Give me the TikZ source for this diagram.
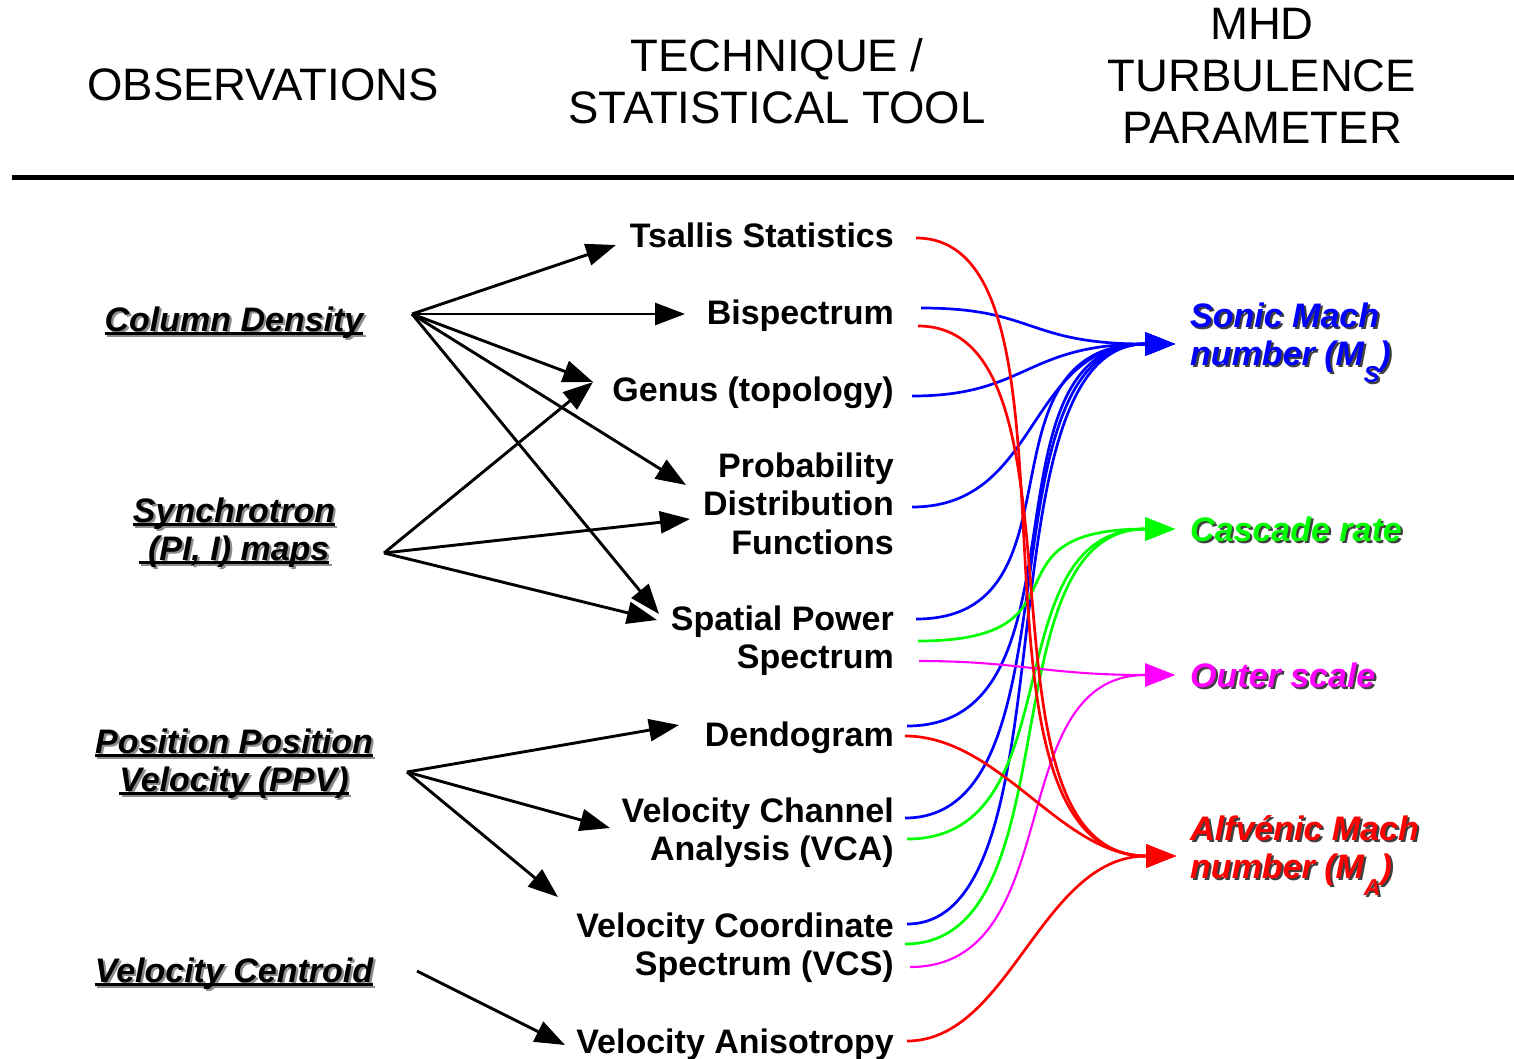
\documentclass[tikz,border=0pt]{standalone}
\usepackage{fontspec}
\setmainfont{Liberation Sans}
\usetikzlibrary{arrows.meta}

\definecolor{mhdblue}{RGB}{0,0,255}
\definecolor{mhdgreen}{RGB}{0,255,0}
\definecolor{mhdmagenta}{RGB}{255,0,255}
\definecolor{mhdred}{RGB}{255,0,0}

% underlined text (rule just below the baseline)
\newsavebox\ulinebox
\newcommand\ulbox[1]{\sbox\ulinebox{#1}\rlap{\rule[-3.6pt]{\wd\ulinebox}{2.2pt}}\usebox\ulinebox}
% text with a soft drop shadow offset down and to the right
\newcommand\shadowed[2]{\makebox[0pt][l]{\kern2.2pt\raisebox{-2.2pt}{\color{#1}#2}}#2}
\newcommand\obsline[1]{\shadowed{black!45}{\ulbox{#1}}}
\newcommand\parline[1]{\shadowed{black!75}{#1}}
\newcommand\lowidx[1]{\raisebox{-17pt}{\fontsize{23}{23}\selectfont #1}}

\tikzset{
  head/.style={inner sep=0pt, anchor=base, font=\fontsize{45.5}{52}\selectfont},
  obs/.style={inner sep=0pt, anchor=base, font=\fontsize{34}{38}\selectfont\bfseries\itshape},
  tool/.style={inner sep=0pt, anchor=base east, font=\fontsize{34}{38.5}\selectfont\bfseries},
  param/.style={inner sep=0pt, anchor=base west, font=\fontsize{34}{38}\selectfont\bfseries\itshape},
  feed/.style={line width=2.9pt, -{Triangle[length=30pt,width=22pt]}},
  link/.style={line width=2.7pt, -{Triangle[length=30pt,width=23pt]}},
  thinlink/.style={line width=2.1pt, -{Triangle[length=30pt,width=23pt]}},
}

\begin{document}
\begin{tikzpicture}[x=1pt,y=-1pt]
\useasboundingbox (0,0) rectangle (1514,1058);

% ---------- column headings ----------
\node[head] (hObs) at (263,100) {OBSERVATIONS};
\node[head] (hTool) at (777,71) {\begin{tabular}[t]{@{}c@{}}TECHNIQUE /\\STATISTICAL TOOL\end{tabular}};
\node[head] (hPar) at (1262,39) {\begin{tabular}[t]{@{}c@{}}MHD\\TURBULENCE\\PARAMETER\end{tabular}};
\coordinate (ruleL) at (12,177);
\coordinate (ruleR) at (1514,177);
\draw[line width=5pt] (ruleL) -- (ruleR);

% ---------- observations ----------
\node[obs] (colden) at (234,331) {\obsline{Column Density}};
\node[obs] (synch) at (234,522) {\begin{tabular}[t]{@{}c@{}}\obsline{Synchrotron}\\\obsline{\ (PI, I) maps}\end{tabular}};
\node[obs] (ppv) at (234,753) {\begin{tabular}[t]{@{}c@{}}\obsline{Position Position}\\\obsline{Velocity (PPV)}\end{tabular}};
\node[obs] (vcen) at (234,982) {\obsline{Velocity Centroid}};

% ---------- techniques ----------
\node[tool] (tsallis) at (894,247) {Tsallis Statistics};
\node[tool] (bispec) at (894,324) {Bispectrum};
\node[tool] (genus) at (894,401) {Genus (topology)};
\node[tool] (pdf) at (894,477) {\begin{tabular}[t]{@{}r@{}}Probability\\Distribution\\Functions\end{tabular}};
\node[tool] (sps) at (894,630) {\begin{tabular}[t]{@{}r@{}}Spatial Power\\Spectrum\end{tabular}};
\node[tool] (dendo) at (894,746) {Dendogram};
\node[tool] (vca) at (894,822) {\begin{tabular}[t]{@{}r@{}}Velocity Channel\\Analysis (VCA)\end{tabular}};
\node[tool] (vcs) at (894,937) {\begin{tabular}[t]{@{}r@{}}Velocity Coordinate\\Spectrum (VCS)\end{tabular}};
\node[tool] (vani) at (894,1053) {Velocity Anisotropy};

% ---------- MHD parameters ----------
\node[param, text=mhdblue] (sonic) at (1190,327) {\begin{tabular}[t]{@{}l@{}}\parline{Sonic Mach}\\\parline{number (M\lowidx{S})}\end{tabular}};
\node[param, text=mhdgreen] (cascade) at (1190,541) {\parline{Cascade rate}};
\node[param, text=mhdmagenta] (outer) at (1190,687) {\parline{Outer scale}};
\node[param, text=mhdred] (alfven) at (1190,840) {\begin{tabular}[t]{@{}l@{}}\parline{Alfvénic Mach}\\\parline{number (M\lowidx{A})}\end{tabular}};

% ---------- black arrows: observation -> technique ----------
\coordinate (cdOut) at (412,314);
\coordinate (synOut) at (384,553);
\coordinate (ppvOut) at (407,772);
\coordinate (vcOut) at (417,971);
\coordinate (tsIn) at (616,245);
\coordinate (biIn) at (685,314);
\coordinate (geIn) at (593,382);
\coordinate (pdfInA) at (686,485);
\coordinate (pdfInB) at (690,519);
\coordinate (spsInA) at (659,614);
\coordinate (spsInB) at (657,620);
\coordinate (deIn) at (679,725);
\coordinate (vcaIn) at (610,828);
\coordinate (vcsIn) at (558,897);
\coordinate (vaIn) at (565,1045);

\draw[feed] (cdOut) -- (tsIn);
\draw[feed] (cdOut) -- (biIn);
\draw[feed] (cdOut) -- (geIn);
\draw[feed] (cdOut) -- (pdfInA);
\draw[feed] (cdOut) -- (spsInA);
\draw[feed] (synOut) -- (geIn);
\draw[feed] (synOut) -- (pdfInB);
\draw[feed] (synOut) -- (spsInB);
\draw[feed] (ppvOut) -- (deIn);
\draw[feed] (ppvOut) -- (vcaIn);
\draw[feed] (ppvOut) -- (vcsIn);
\draw[feed] (vcOut) -- (vaIn);

% ---------- coloured links: technique -> parameter ----------
\coordinate (sonicTip) at (1175,344);
\coordinate (cascTip) at (1175,529);
\coordinate (outerTip) at (1175,675);
\coordinate (alfTip) at (1176,856);

\coordinate (tsR) at (916,238);
\coordinate (biB) at (921,308);
\coordinate (biR) at (918,326);
\coordinate (geB) at (912,396);
\coordinate (pdfB) at (912,507);
\coordinate (spsB) at (916,619);
\coordinate (spsG) at (918,641);
\coordinate (spsM) at (919,661);
\coordinate (deB) at (907,726);
\coordinate (deR) at (905,736);
\coordinate (vcaB) at (905,818);
\coordinate (vcaG) at (907,839);
\coordinate (vcsB) at (907,924);
\coordinate (vcsG) at (905,944);
\coordinate (vcsM) at (910,967);
\coordinate (vaR) at (907,1041);

% sonic Mach number
\draw[link, mhdblue] (biB) .. controls +(115,0) and +(-150,0) .. (sonicTip);
\draw[link, mhdblue] (geB) .. controls +(115,0) and +(-150,0) .. (sonicTip);
\draw[link, mhdblue] (pdfB) .. controls +(130,0) and +(-150,0) .. (sonicTip);
\draw[link, mhdblue] (spsB) .. controls +(175,0) and +(-205,0) .. (sonicTip);
\draw[link, mhdblue] (deB) .. controls +(190,0) and +(-200,0) .. (sonicTip);
\draw[link, mhdblue] (vcaB) .. controls +(180,0) and +(-200,0) .. (sonicTip);
\draw[link, mhdblue] (vcsB) .. controls +(170,0) and +(-200,0) .. (sonicTip);

% cascade rate
\draw[link, mhdgreen] (spsG) .. controls +(180,0) and +(-200,0) .. (cascTip);
\draw[link, mhdgreen] (vcaG) .. controls +(170,0) and +(-185,0) .. (cascTip);
\draw[link, mhdgreen] (vcsG) .. controls +(170,0) and +(-190,0) .. (cascTip);

% outer scale
\draw[thinlink, mhdmagenta] (spsM) .. controls +(100,0) and +(-130,0) .. (outerTip);
\draw[thinlink, mhdmagenta] (vcsM) .. controls +(160,0) and +(-175,0) .. (outerTip);

% Alfvenic Mach number
\draw[link, mhdred] (tsR) .. controls +(188,0) and +(-236,0) .. (alfTip);
\draw[link, mhdred] (biR) .. controls +(183,0) and +(-215,0) .. (alfTip);
\draw[link, mhdred] (deR) .. controls +(95,0) and +(-115,0) .. (alfTip);
\draw[link, mhdred] (vaR) .. controls +(103,0) and +(-135,0) .. (alfTip);
\end{tikzpicture}
\end{document}
